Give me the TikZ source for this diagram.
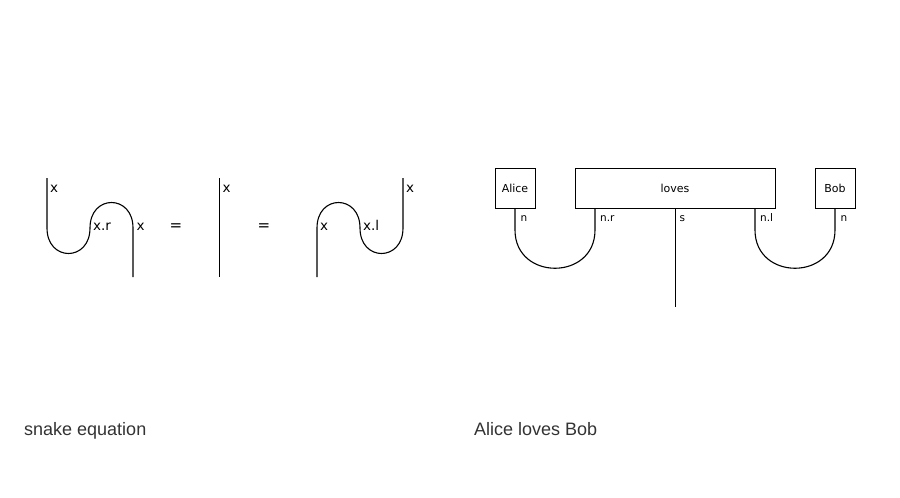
\documentclass[tikz,border=0pt]{standalone}
\usepackage{fontspec}
\setmainfont{DejaVu Sans}
\newfontfamily\titlefont{Liberation Sans}
\definecolor{titlegray}{HTML}{333333}
\begin{document}
\begin{tikzpicture}[x=1pt,y=-1pt,
  wire/.style={line width=1.1pt},
  boxnode/.style={draw,line width=0.9pt,minimum height=40pt,inner sep=0pt,font=\fontsize{11}{13}\selectfont},
  slab/.style={anchor=base west,inner sep=0pt,font=\fontsize{13.5}{15}\selectfont},
  alab/.style={anchor=base west,inner sep=0pt,font=\fontsize{10.5}{12}\selectfont},
  eqsign/.style={inner sep=0pt,font=\fontsize{15}{17}\selectfont},
  title/.style={anchor=base west,inner sep=0pt,text=titlegray,font=\titlefont\fontsize{18}{20}\selectfont}]
\useasboundingbox (0,0) rectangle (900,498);
% ---- snake equation, left side
\coordinate (a1) at (47,178);
\coordinate (a2) at (47,228);
\coordinate (a3) at (90,228);
\coordinate (a4) at (133,228);
\coordinate (a5) at (133,277);
\draw[wire] (a1) -- (a2) .. controls +(0,34) and +(0,34) .. (a3)
  .. controls +(0,-34) and +(0,-34) .. (a4) -- (a5);
\node[slab] (la1) at (50,192.3) {x};
\node[slab] (la2) at (93,230.5) {x.r};
\node[slab] (la3) at (136.5,230.5) {x};
\node[eqsign] (eq1) at (176,227) {=};
% ---- identity
\coordinate (i1) at (219.5,178);
\coordinate (i2) at (219.5,277);
\draw[wire] (i1) -- (i2);
\node[slab] (li) at (222.5,192.3) {x};
\node[eqsign] (eq2) at (264,227) {=};
% ---- snake equation, right side
\coordinate (b1) at (317,277);
\coordinate (b2) at (317,228);
\coordinate (b3) at (360,228);
\coordinate (b4) at (403,228);
\coordinate (b5) at (403,178);
\draw[wire] (b1) -- (b2) .. controls +(0,-34) and +(0,-34) .. (b3)
  .. controls +(0,34) and +(0,34) .. (b4) -- (b5);
\node[slab] (lb1) at (320,230.5) {x};
\node[slab] (lb2) at (363,230.5) {x.l};
\node[slab] (lb3) at (406,192.3) {x};
% ---- Alice loves Bob
\node[boxnode,minimum width=40pt] (alice) at (515,188) {Alice};
\node[boxnode,minimum width=200pt] (loves) at (675,188) {loves};
\node[boxnode,minimum width=40pt] (bob) at (835,188) {Bob};
\coordinate (c1) at (515,230);
\coordinate (c2) at (595,230);
\coordinate (c3) at (755,230);
\coordinate (c4) at (835,230);
\coordinate (sEnd) at (675.5,307);
\draw[wire] (alice.south) -- (c1) .. controls +(0,51) and +(0,51) .. (c2) -- (loves.south -| c2);
\draw[wire] (loves.south -| sEnd) -- (sEnd);
\draw[wire] (loves.south -| c3) -- (c3) .. controls +(0,51) and +(0,51) .. (c4) -- (bob.south);
\node[alab] (ln1) at (520.5,221) {n};
\node[alab] (ln2) at (600,221) {n.r};
\node[alab] (ln3) at (679.5,221) {s};
\node[alab] (ln4) at (760,221) {n.l};
\node[alab] (ln5) at (840.5,221) {n};
% ---- titles
\node[title] (t1) at (24,435) {snake equation};
\node[title] (t2) at (474,435) {Alice loves Bob};
\end{tikzpicture}
\end{document}
